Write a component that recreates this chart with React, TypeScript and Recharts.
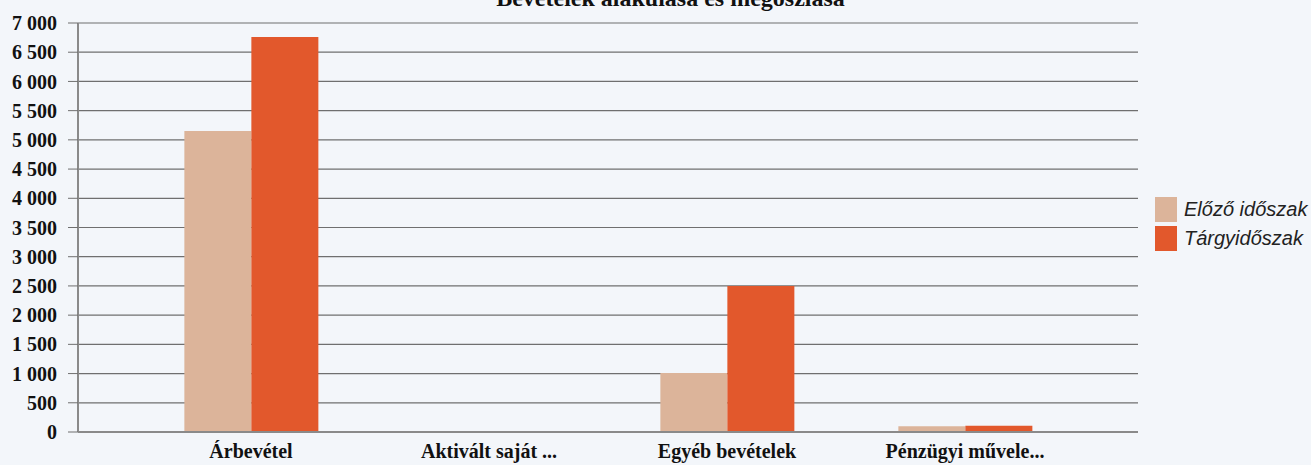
import { BarChart, Bar, XAxis, YAxis, CartesianGrid } from "recharts";

const categories = ["Árbevétel", "Aktivált saját ...", "Egyéb bevételek", "Pénzügyi művele..."];
const previous = [5150, 0, 1010, 100];
const current = [6760, 0, 2500, 105];
const yTicks = [0, 500, 1000, 1500, 2000, 2500, 3000, 3500, 4000, 4500, 5000, 5500, 6000, 6500, 7000];

const PREV_COLOR = "#dcb49a";
const CUR_COLOR = "#e2582c";

const data = categories.map((name, i) => ({
  name,
  prev: previous[i],
  cur: current[i],
}));

const fmt = (v: number) => v.toLocaleString("en-US").replace(/,/g, " ");

function LegendBox(): React.ReactElement {
  const items = [
    { label: "Előző időszak", color: PREV_COLOR },
    { label: "Tárgyidőszak", color: CUR_COLOR },
  ];
  return (
    <div
      style={{
        position: "absolute",
        left: 1155,
        top: 197,
        display: "flex",
        flexDirection: "column",
        gap: 4,
      }}
    >
      {items.map((it) => (
        <div key={it.label} style={{ display: "flex", alignItems: "center", gap: 7 }}>
          <span style={{ width: 22, height: 25, background: it.color, display: "inline-block" }} />
          <span
            style={{
              fontFamily: "Liberation Sans, Arial, sans-serif",
              fontStyle: "italic",
              fontSize: 20,
              color: "#222",
              whiteSpace: "nowrap",
            }}
          >
            {it.label}
          </span>
        </div>
      ))}
    </div>
  );
}

export default function App(): React.ReactElement {
  return (
    <div
      style={{
        position: "absolute",
        left: 0,
        top: 0,
        width: 1311,
        height: 465,
        overflow: "hidden",
        background: "#f3f6fa",
      }}
    >
      <div
        style={{
          position: "absolute",
          top: -15,
          left: 0,
          width: 1311,
          textAlign: "center",
          fontFamily: "Liberation Serif, Times New Roman, serif",
          fontWeight: "bold",
          fontSize: 24,
          color: "#111",
          paddingLeft: 30,
          boxSizing: "border-box",
        }}
      >
        Bevételek alakulása és megoszlása
      </div>
      <BarChart
        width={1311}
        height={465}
        data={data}
        margin={{ top: 23, right: 173, bottom: 8, left: 0 }}
        barCategoryGap="22%"
        barGap={0}
      >
        <CartesianGrid vertical={false} stroke="#6f6f6f" strokeWidth={1.2} />
        <XAxis
          dataKey="name"
          height={25}
          padding={{ left: 54, right: 54 }}
          tickLine={false}
          tickMargin={6}
          axisLine={{ stroke: "#8a8a8a", strokeWidth: 2 }}
          tick={{
            fill: "#111",
            fontFamily: "Liberation Serif, Times New Roman, serif",
            fontWeight: "bold",
            fontSize: 20,
          }}
          interval={0}
        />
        <YAxis
          width={78}
          domain={[0, 7000]}
          ticks={yTicks}
          interval={0}
          tickFormatter={fmt}
          tickSize={10}
          tickMargin={11}
          tickLine={{ stroke: "#6f6f6f" }}
          axisLine={{ stroke: "#8a8a8a", strokeWidth: 2 }}
          tick={{
            fill: "#111",
            fontFamily: "Liberation Serif, Times New Roman, serif",
            fontWeight: "bold",
            fontSize: 20,
          }}
        />
        <Bar dataKey="prev" fill={PREV_COLOR} isAnimationActive={false} />
        <Bar dataKey="cur" fill={CUR_COLOR} isAnimationActive={false} />
      </BarChart>
      <LegendBox />
    </div>
  );
}
